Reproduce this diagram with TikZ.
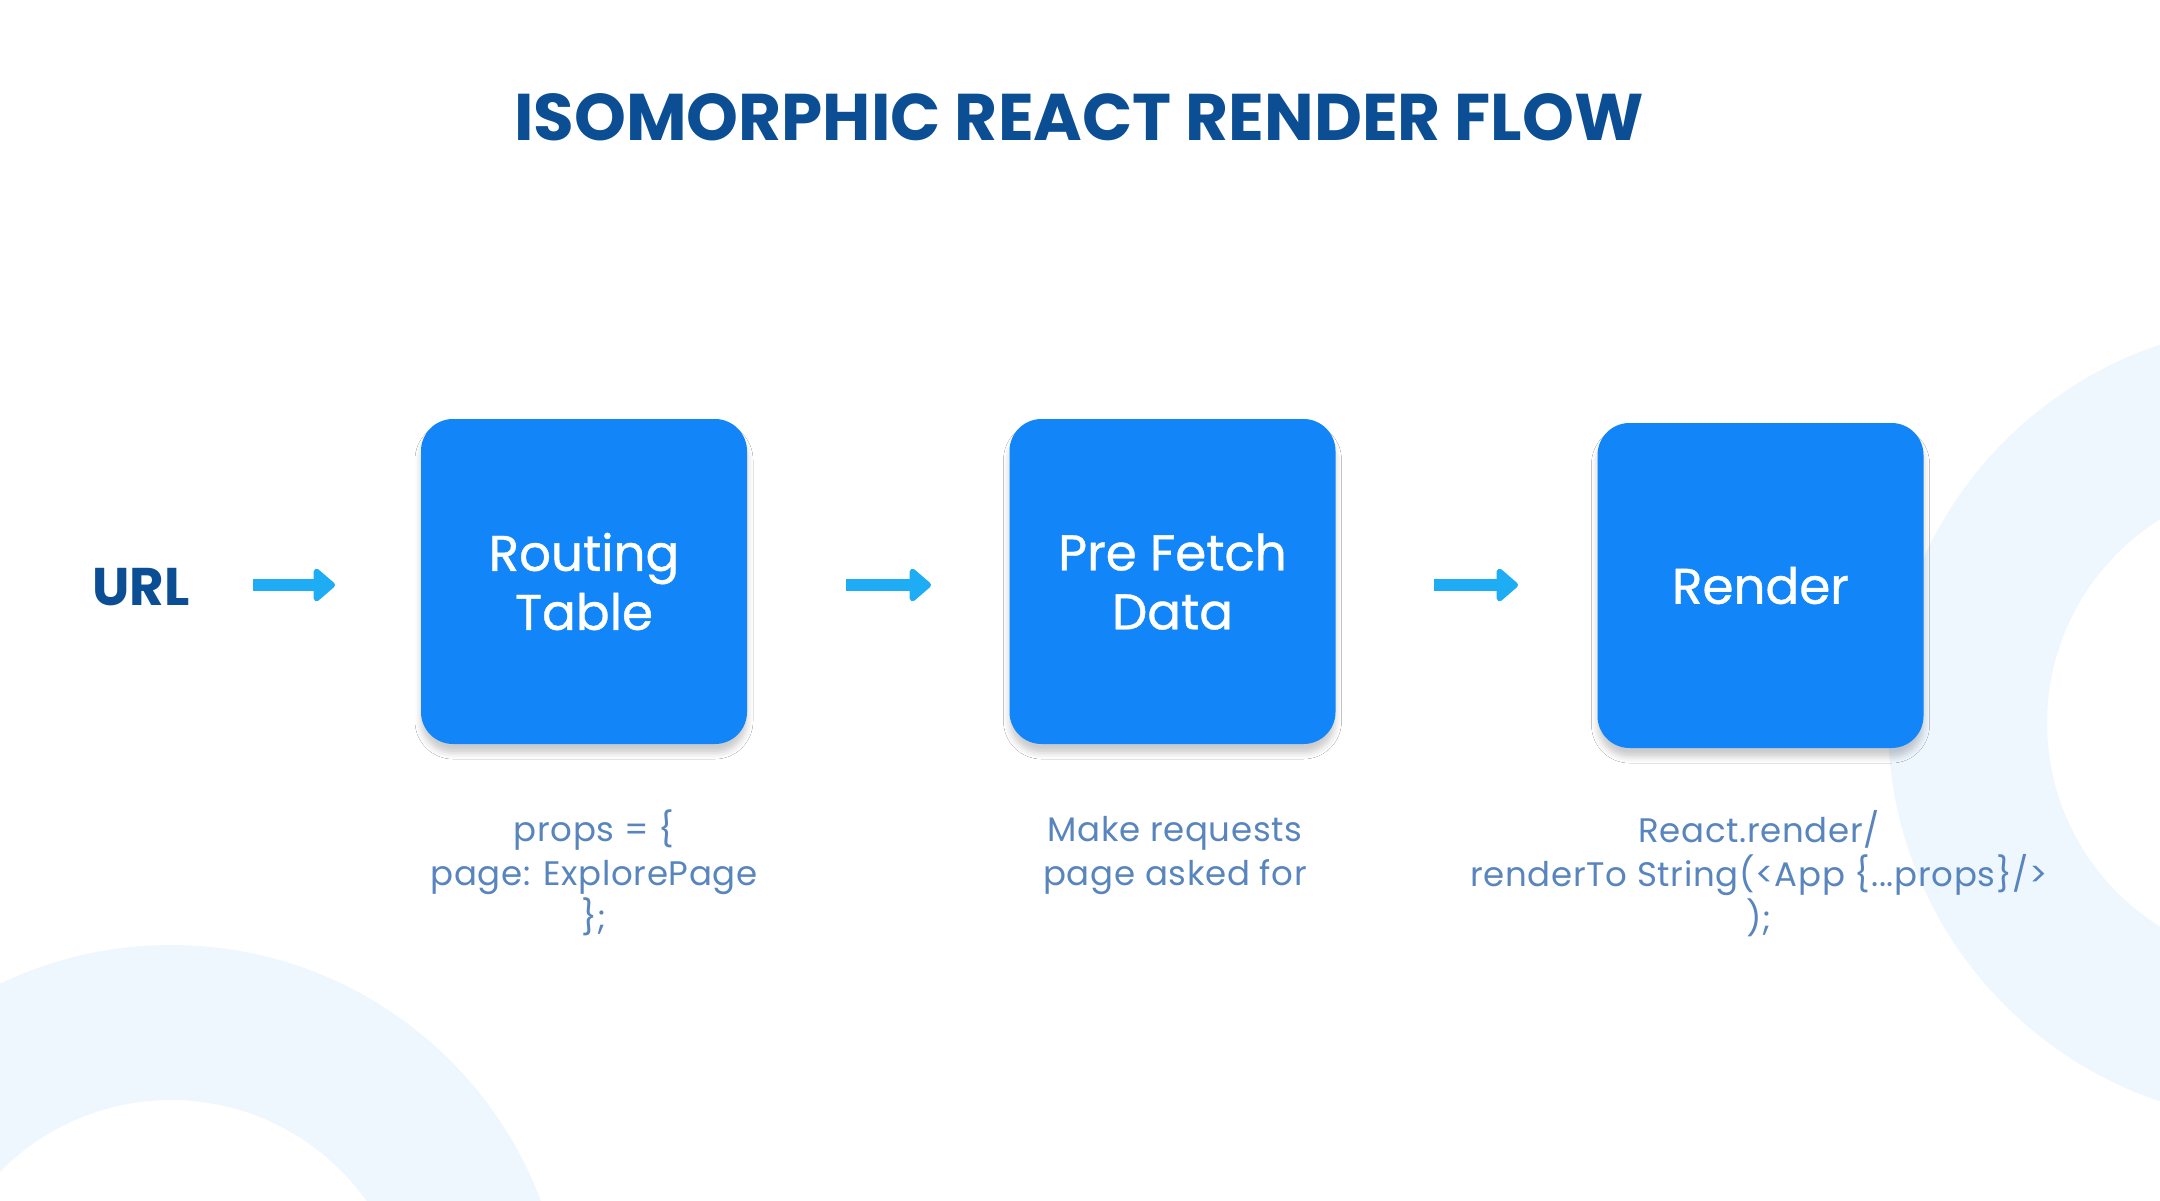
\documentclass[tikz,border=0pt]{standalone}
\usepackage{fontspec}
\setmainfont{Poppins}
\newfontfamily\medfont{Poppins}[FakeBold=0.8]
\newfontfamily\capfont{Poppins}[LetterSpace=2]
\usetikzlibrary{arrows.meta,shadows.blur}
\definecolor{titleblue}{HTML}{0B4E94}
\definecolor{boxblue}{HTML}{1286F8}
\definecolor{arrowblue}{HTML}{1EADF5}
\definecolor{capblue}{HTML}{5985BE}
\definecolor{ringblue}{HTML}{EEF6FE}
\begin{document}
\begin{tikzpicture}[x=1pt,y=-1pt,
  stepbox/.style={rounded corners=32pt, fill=boxblue, minimum width=326pt, minimum height=325pt,
    inner sep=0pt, text=white, align=center, font=\medfont\fontsize{50}{59}\selectfont,
    blur shadow={shadow xshift=0pt, shadow yshift=-9pt, shadow blur radius=6pt, shadow opacity=20}},
  caption/.style={anchor=north, inner sep=0pt, text=capblue, align=center, font=\capfont\fontsize{34}{44}\selectfont},
  flow/.style={line width=12pt, arrowblue, -{Triangle[length=23pt,width=38pt,round]}},
  ring/.style={fill=ringblue, even odd rule}]
\useasboundingbox (0,0) rectangle (2160,1200);
\fill[white] (0,0) rectangle (2160,1200);
\begin{scope}
\clip (0,0) rectangle (2160,1200);
\fill[ring] (171,1340) circle[radius=395pt] (171,1340) circle[radius=240pt];
\fill[ring] (2287,723) circle[radius=399pt] (2287,723) circle[radius=240pt];
\end{scope}
\node[anchor=base, inner sep=0pt, text=titleblue, font=\fontsize{66}{80}\selectfont\bfseries] (title) at (1079,140) {ISOMORPHIC REACT RENDER FLOW};
\node[anchor=base, inner sep=0pt, text=titleblue, font=\fontsize{53}{60}\selectfont\bfseries] (url) at (141,605) {URL};
\node[stepbox] (rt) at (584,581.5) {\raisebox{-8pt}{\parbox{300pt}{\centering Routing\\Table}}};
\node[stepbox] (pf) at (1172.5,581.5) {\raisebox{-6pt}{\parbox{300pt}{\centering Pre Fetch\\Data}}};
\node[stepbox] (rd) at (1760.5,585.5) {Render};
\coordinate (a1s) at (253,585);
\coordinate (a1e) at (335,585);
\coordinate (a2s) at (846,585);
\coordinate (a2e) at (931,585);
\coordinate (a3s) at (1434,585);
\coordinate (a3e) at (1518,585);
\draw[flow] (a1s) -- (a1e);
\draw[flow] (a2s) -- (a2e);
\draw[flow] (a3s) -- (a3e);
\node[caption] (c1) at (594,810) {props = \{\\page: ExplorePage\\\};};
\node[caption] (c2) at (1175,816) {Make requests\\page asked for};
\node[caption] (c3) at (1759,810) {React.render/\\renderTo String(<App \{...props\}/>\\);};
\end{tikzpicture}
\end{document}
